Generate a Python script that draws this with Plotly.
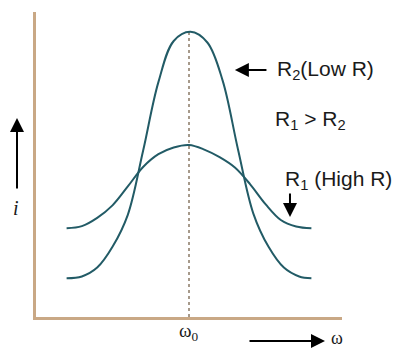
import plotly.graph_objects as go

# Values (omega and current in arbitrary units)
omega_r2 = [1.0, 1.5, 2.0, 2.5, 3.0, 3.5, 4.0, 4.5, 5.05, 5.6, 6.1, 6.6, 7.1, 7.6, 8.1, 8.6, 9.0]
i_r2 = [1.27, 1.33, 1.62, 2.30, 3.35, 5.45, 7.70, 9.05, 9.35, 9.00, 7.75, 5.50, 3.40, 2.30, 1.62, 1.33, 1.27]

omega_r1 = [1.0, 1.5, 2.0, 2.5, 3.0, 3.5, 4.0, 4.5, 5.0, 5.5, 6.0, 6.5, 7.0, 7.5, 8.0, 8.5, 9.0]
i_r1 = [2.91, 2.98, 3.25, 3.66, 4.28, 4.92, 5.34, 5.56, 5.64, 5.49, 5.24, 4.90, 4.35, 3.70, 3.18, 2.97, 2.91]

omega0 = 5.0
tick_vals = [omega0]
tick_text = ["ω<sub>0</sub>"]

CURVE = "#225b66"
AXIS = "#c9a885"
TXT = "#1a1a1a"
SANS = "Liberation Sans, Arial, sans-serif"
SERIF = "Liberation Serif, Times New Roman, serif"

W, H = 397, 349
ML, MR, MT, MB = 36, 55, 12, 32
PW, PH = W - ML - MR, H - MT - MB


def px(xp):  # pixel x -> paper
    return (xp - ML) / PW


def py(yp):  # pixel y -> paper
    return (H - MB - yp) / PH


fig = go.Figure()
fig.add_trace(go.Scatter(x=omega_r2, y=i_r2, mode="lines",
                         line=dict(color=CURVE, width=2, shape="spline", smoothing=1.0), hoverinfo="skip"))
fig.add_trace(go.Scatter(x=omega_r1, y=i_r1, mode="lines",
                         line=dict(color=CURVE, width=2, shape="spline", smoothing=1.0), hoverinfo="skip"))

# dotted resonance line
fig.add_shape(type="line", x0=omega0, x1=omega0, y0=0, y1=max(i_r2), xref="x", yref="y",
              line=dict(color="#8a7a66", width=1.5, dash="dot"), layer="below")

ann = []
# R2 arrow and label
ann.append(dict(x=6.50, y=8.10, xref="x", yref="y", text="", showarrow=True, ax=7.58, ay=8.10,
                axref="x", ayref="y", arrowhead=2, arrowsize=1.4, arrowwidth=2, arrowcolor="black"))
ann.append(dict(x=7.81, y=8.10, xref="x", yref="y", text="R<sub>2</sub>(Low R)", showarrow=False,
                xanchor="left", yanchor="middle", font=dict(family=SANS, size=21, color=TXT)))
ann.append(dict(x=7.75, y=6.46, xref="x", yref="y", text="R<sub>1</sub> > R<sub>2</sub>", showarrow=False,
                xanchor="left", yanchor="middle", font=dict(family=SANS, size=21, color=TXT)))
ann.append(dict(x=8.07, y=4.49, xref="x", yref="y", text="R<sub>1</sub> (High R)", showarrow=False,
                xanchor="left", yanchor="middle", font=dict(family=SANS, size=21, color=TXT)))
ann.append(dict(x=8.30, y=3.28, xref="x", yref="y", text="", showarrow=True, ax=8.30, ay=4.10,
                axref="x", ayref="y", arrowhead=2, arrowsize=1.4, arrowwidth=2, arrowcolor="black"))
# y label and arrow
ann.append(dict(x=px(17), y=py(118), xref="paper", yref="paper", text="", showarrow=True, ax=0, ay=72,
                arrowhead=2, arrowsize=1.4, arrowwidth=2, arrowcolor="black"))
ann.append(dict(x=px(16), y=py(208), xref="paper", yref="paper", text="<i>i</i>", showarrow=False,
                xanchor="center", yanchor="middle", font=dict(family=SERIF, size=20, color=TXT)))
# omega0 tick label
for tv, tt in zip(tick_vals, tick_text):
    ann.append(dict(x=tv, y=py(332), xref="x", yref="paper", text=tt, showarrow=False,
                    xanchor="center", yanchor="middle", font=dict(family=SERIF, size=19, color=TXT)))
# x arrow and label
ann.append(dict(x=px(325), y=py(341), xref="paper", yref="paper", text="", showarrow=True, ax=-77, ay=0,
                arrowhead=2, arrowsize=1.4, arrowwidth=2, arrowcolor="black"))
ann.append(dict(x=px(337), y=py(338), xref="paper", yref="paper", text="ω", showarrow=False,
                xanchor="center", yanchor="middle", font=dict(family=SERIF, size=18, color=TXT)))

fig.update_layout(
    width=W, height=H,
    margin=dict(l=ML, r=MR, t=MT, b=MB),
    paper_bgcolor="white", plot_bgcolor="white",
    showlegend=False,
    annotations=ann,
    xaxis=dict(range=[0, 10], showgrid=False, zeroline=False, showline=True, linecolor=AXIS, linewidth=2.5,
               showticklabels=False, ticks=""),
    yaxis=dict(range=[0, 10], showgrid=False, zeroline=False, showline=True, linecolor=AXIS, linewidth=2.5,
               showticklabels=False, ticks=""),
)

fig.write_html("out.html", config={"displayModeBar": False},
               post_script="document.body.style.margin='0';document.body.style.overflow='hidden';")
